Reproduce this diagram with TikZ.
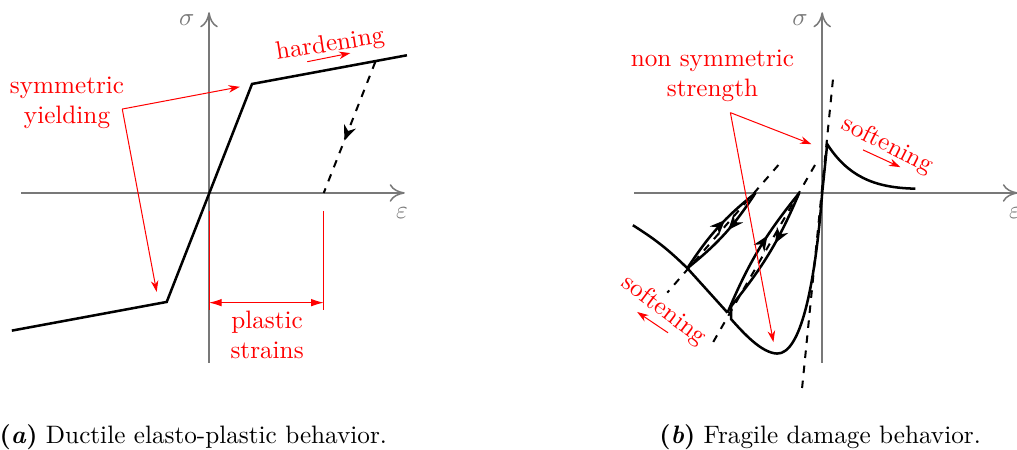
\documentclass[tikz,border=0pt]{standalone}
\usepackage{amsmath}
\usetikzlibrary{arrows.meta,decorations.markings}
\definecolor{AxisGray}{RGB}{120,120,120}
\definecolor{NoteRed}{RGB}{255,0,0}

\begin{document}
\begin{tikzpicture}[
  axis/.style={draw=AxisGray, semithick, -{To[length=6pt,width=7pt]}},
  axislabel/.style={text=AxisGray, inner sep=1pt},
  curve/.style={line width=1pt, black},
  guide/.style={line width=0.8pt, dashed, black},
  note/.style={text=NoteRed, align=center, inner sep=1pt},
  pointer/.style={draw=NoteRed, thin, -{Stealth[length=4.5pt,width=3pt]}},
  mark line/.style={draw=NoteRed, thin},
  span/.style={draw=NoteRed, thin, {Latex[length=5pt,width=3pt]}-{Latex[length=5pt,width=3pt]}},
  loading/.style={postaction={decorate}, decoration={markings,
    mark=at position #1 with {\arrow{Stealth[length=6pt,width=5pt]}}}}
]
\useasboundingbox (-2.915,-3.584) rectangle (11.268,2.691);

% (a) ductile
\begin{scope}
  \draw[axis] (-2.62,0) -- (2.73,0);
  \draw[axis] (0,-2.37) -- (0,2.52);
  \node[axislabel] (sigmaa) at (-0.31,2.41) {$\sigma$};
  \node[axislabel] (epsa) at (2.69,-0.28) {$\varepsilon$};

  \coordinate (lowa) at (-2.75,-1.92);
  \coordinate (yieldlowa) at (-0.59,-1.52);
  \coordinate (yieldtopa) at (0.60,1.52);
  \coordinate (higha) at (2.76,1.92);
  \coordinate (unloada) at (2.32,1.83);
  \coordinate (residuala) at (1.60,0);
  \draw[curve] (lowa) -- (yieldlowa) -- (yieldtopa) -- (higha);
  \draw[guide, loading=0.6] (unloada) -- (residuala);

  \node[note, rotate=9] (harda) at (1.69,2.06) {hardening};
  \coordinate (hardfrom) at (1.37,1.83);
  \coordinate (hardto) at (1.97,1.95);
  \draw[pointer] (hardfrom) -- (hardto);

  \node[note] (syma) at (-1.98,1.26) {symmetric\\yielding};
  \coordinate (forka) at (-1.21,1.17);
  \coordinate (pointtopa) at (0.43,1.48);
  \coordinate (pointlowa) at (-0.73,-1.38);
  \draw[pointer] (forka) -- (pointtopa);
  \draw[pointer] (forka) -- (pointlowa);

  \coordinate (tick1) at (0,-0.25);
  \coordinate (tick2) at (1.60,-0.25);
  \draw[mark line] (tick1) -- ++(0,-1.38);
  \draw[mark line] (tick2) -- ++(0,-1.38);
  \draw[span] (0,-1.53) -- (1.60,-1.53);
  \node[note] (plasta) at (0.81,-1.98) {plastic\\strains};

  \node (capa) at (-0.22,-3.40) {\textbf{(\textit{a})} Ductile elasto-plastic behavior.};
\end{scope}

% (b) fragile
\begin{scope}[xshift=8.551cm]
  \draw[axis] (-2.62,0) -- (2.73,0);
  \draw[axis] (0,-2.37) -- (0,2.52);
  \node[axislabel] (sigmab) at (-0.31,2.41) {$\sigma$};
  \node[axislabel] (epsb) at (2.69,-0.28) {$\varepsilon$};

  \draw[guide] (0.15,1.58) -- (-0.28,-2.72);
  \draw[guide] (-0.10,0.39) -- (-1.52,-2.08);
  \draw[guide] (-0.61,0.39) -- (-2.16,-1.39);

  \coordinate (peakb) at (0.07,0.68);
  \coordinate (endb) at (1.30,0.06);
  \coordinate (minb) at (-0.63,-2.24);
  \coordinate (firstb) at (-1.27,-1.76);
  \coordinate (backb) at (-1.27,-1.58);
  \coordinate (cornerb) at (-1.32,-1.67);
  \coordinate (secondb) at (-1.88,-1.05);
  \coordinate (tip1b) at (-0.32,0);
  \coordinate (tip2b) at (-0.93,0);
  \coordinate (leftb) at (-2.64,-0.45);

  \draw[curve] (endb) .. controls (0.7,0.07) and (0.35,0.25) .. (peakb) -- (0,0)
    .. controls (-0.1,-1.3) and (-0.3,-2.25) .. (minb)
    .. controls (-0.85,-2.23) and (-1.1,-1.95) .. (firstb) -- (backb);
  \draw[curve, loading=0.62] (cornerb) to[bend left=8] (tip1b);
  \draw[curve, loading=0.42] (tip1b) to[bend left=8] (backb);
  \draw[curve] (cornerb) -- (secondb);
  \draw[curve, loading=0.6] (secondb) to[bend left=9] (tip2b);
  \draw[curve, loading=0.45] (tip2b) to[bend left=9] (secondb);
  \draw[curve] (secondb) to[bend right=6] (leftb);

  \node[note] (nonsymb) at (-1.53,1.63) {non symmetric\\strength};
  \coordinate (forkb) at (-1.28,1.12);
  \coordinate (pointtopb) at (-0.15,0.68);
  \coordinate (pointlowb) at (-0.68,-2.08);
  \draw[pointer] (forkb) -- (pointtopb);
  \draw[pointer] (forkb) -- (pointlowb);

  \node[note, rotate=-27] (softtb) at (0.91,0.66) {softening};
  \coordinate (softtfrom) at (0.57,0.60);
  \coordinate (softtto) at (1.09,0.36);
  \draw[pointer] (softtfrom) -- (softtto);

  \node[note, rotate=-37] (softcb) at (-2.21,-1.64) {softening};
  \coordinate (softcfrom) at (-2.15,-1.95);
  \coordinate (softcto) at (-2.58,-1.66);
  \draw[pointer] (softcfrom) -- (softcto);

  \node (capb) at (-0.03,-3.40) {\textbf{(\textit{b})} Fragile damage behavior.};
\end{scope}
\end{tikzpicture}
\end{document}
